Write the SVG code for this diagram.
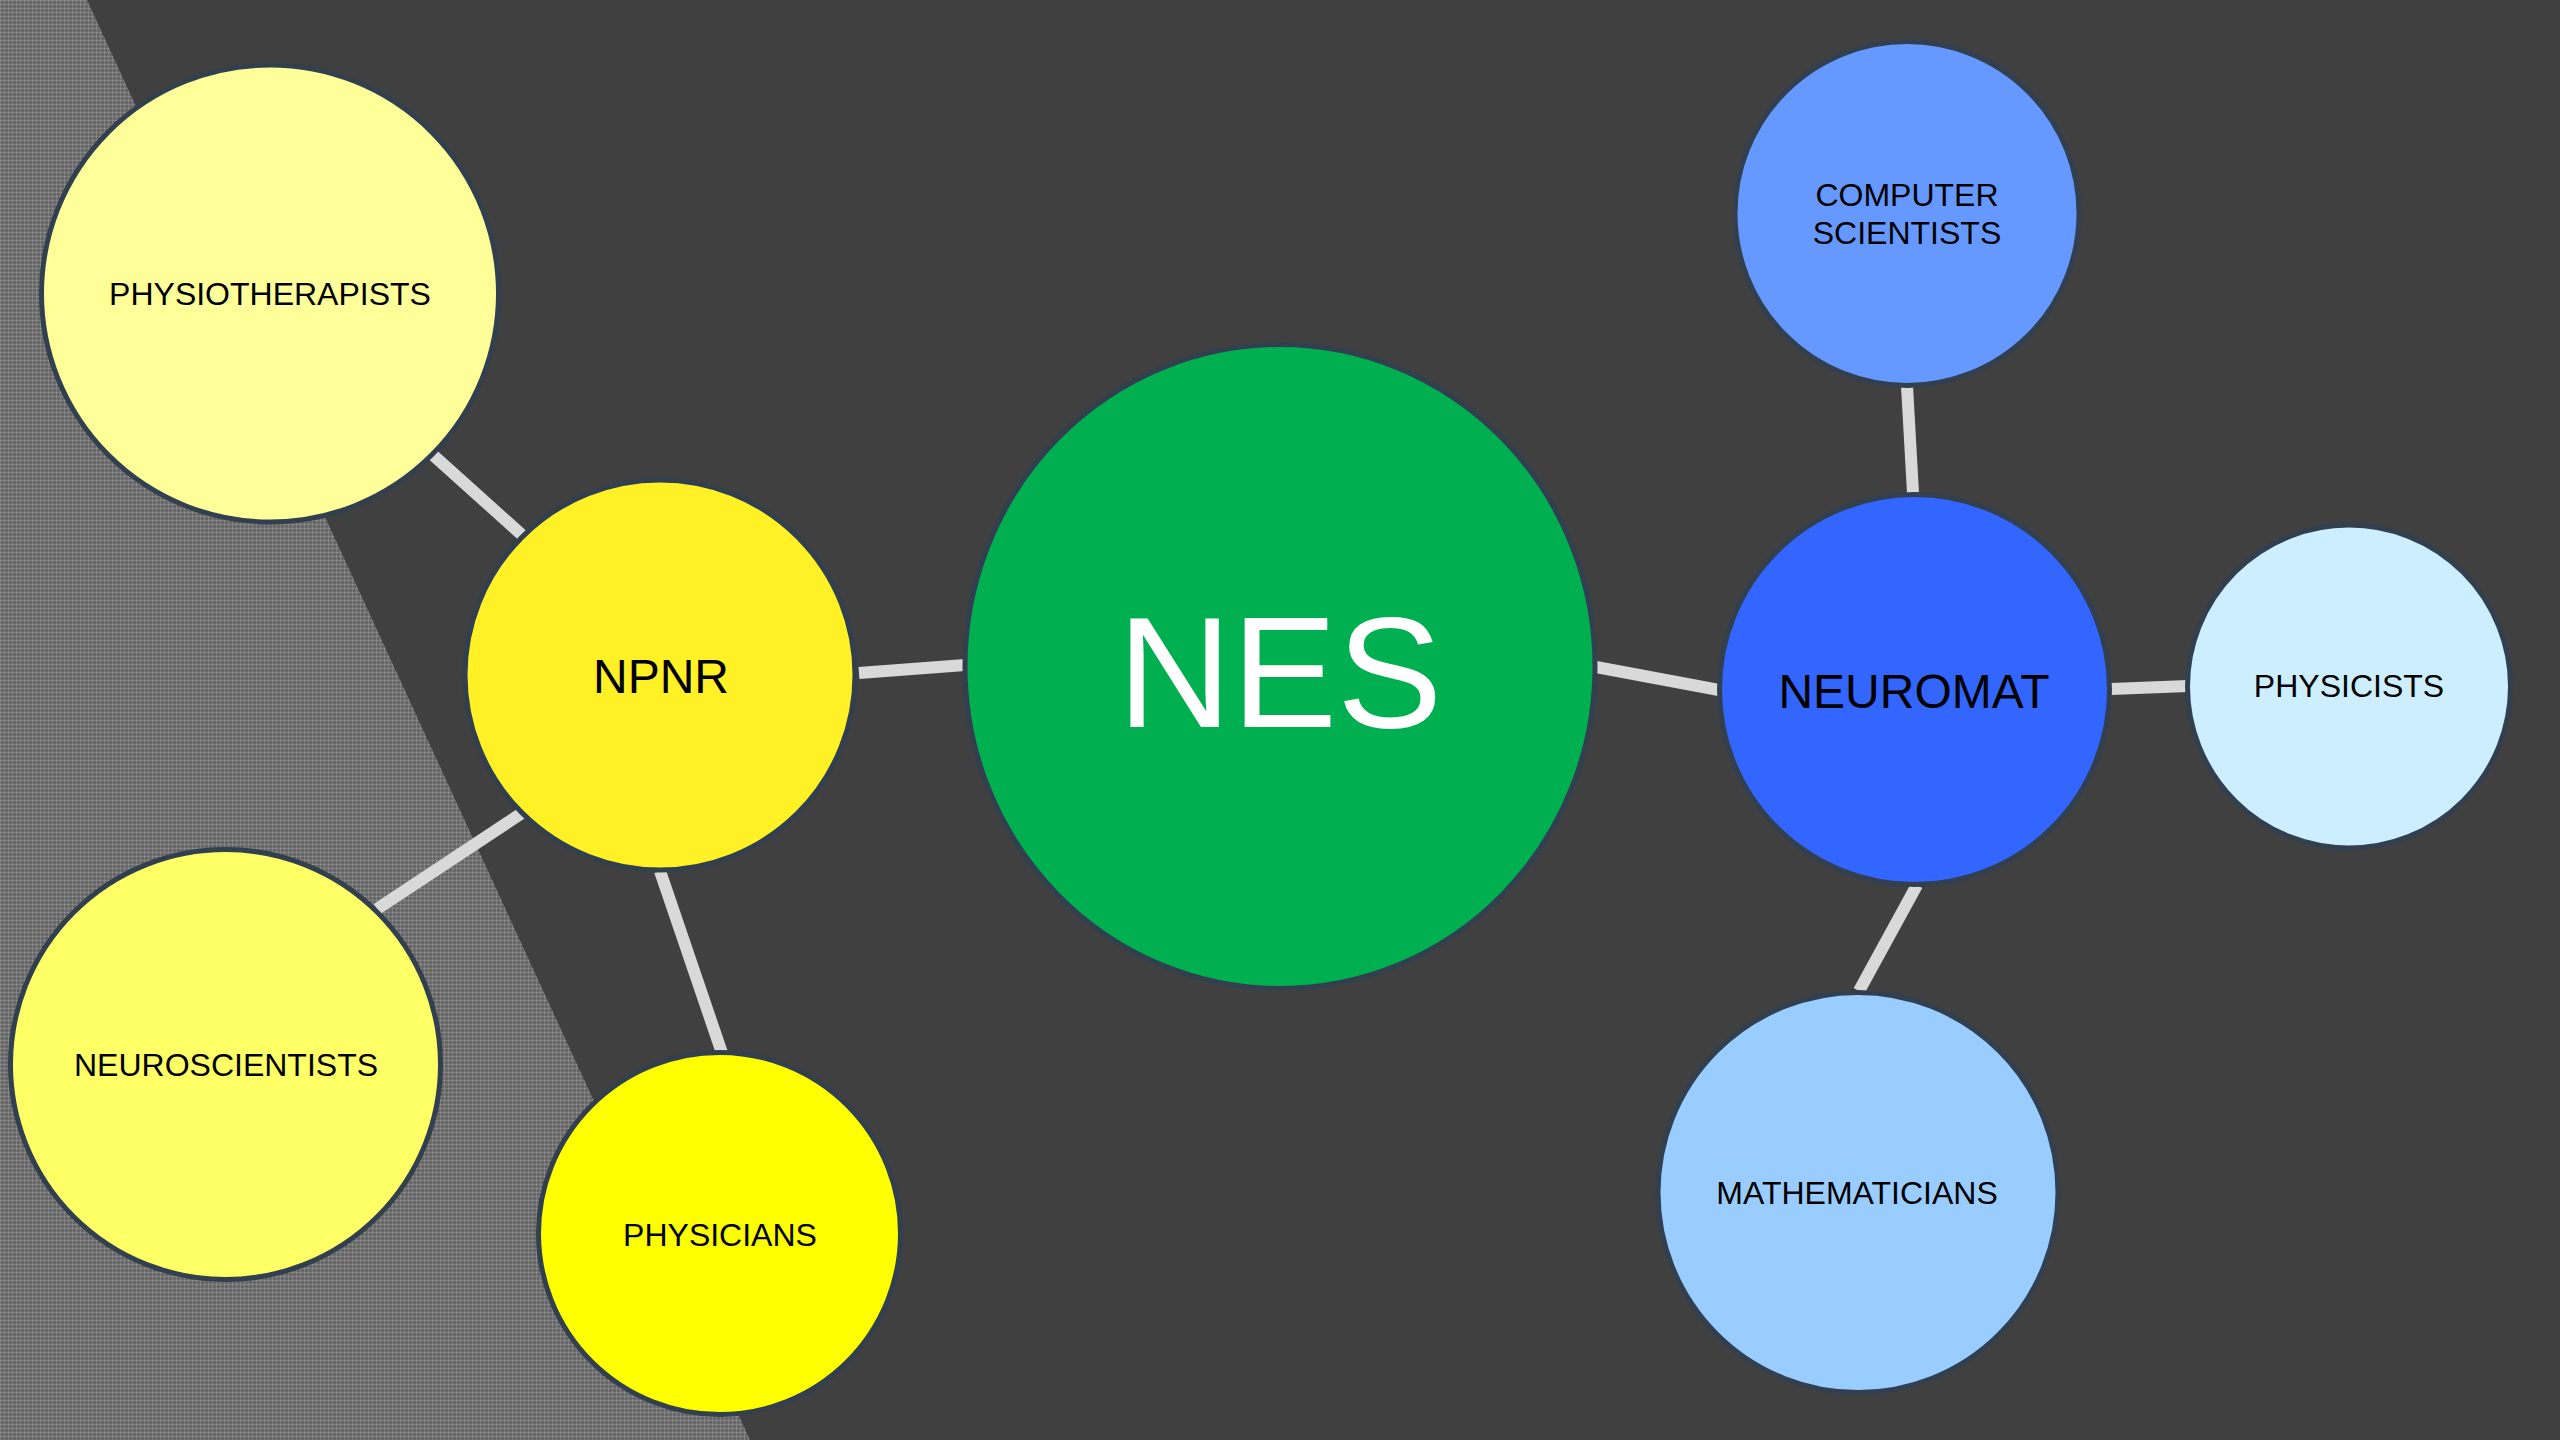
<svg xmlns="http://www.w3.org/2000/svg" width="2560" height="1440" viewBox="0 0 2560 1440">
  <defs>
    <pattern id="tex" width="4" height="4" patternUnits="userSpaceOnUse">
      <rect width="4" height="4" fill="#6a6a6a"/>
      <rect x="0" y="0" width="4" height="1" fill="#7c7c7c"/>
      <rect x="0" y="0" width="1" height="4" fill="#7c7c7c"/>
      <rect x="0" y="0" width="1" height="1" fill="#969696"/>
      <rect x="2" y="2" width="1" height="1" fill="#5a5a5a"/>
    </pattern>
  </defs>
  <style>
    .node { stroke: #323f4f; stroke-width: 5; }
    .lbl { font-family: "Liberation Sans", Arial, sans-serif; font-size: 32px; fill: #000000; text-anchor: middle; }
    .big { font-size: 48px; }
    .conn line { stroke: #d9d9d9; stroke-width: 12; stroke-linecap: butt; }
  </style>
  <rect x="0" y="0" width="2560" height="1440" fill="#404040"/>
  <polygon points="0,0 87,0 750,1440 0,1440" fill="url(#tex)"/>

  <g id="connectors" class="conn">
    <line x1="433" y1="455" x2="522" y2="535"/>
    <line x1="859" y1="673" x2="965" y2="665"/>
    <line x1="522" y1="813" x2="377" y2="909"/>
    <line x1="660" y1="871" x2="722" y2="1053"/>
    <line x1="1596" y1="667" x2="1719" y2="690"/>
    <line x1="1907" y1="386" x2="1913" y2="493"/>
    <line x1="2111" y1="689" x2="2188" y2="686"/>
    <line x1="1917" y1="885" x2="1859" y2="991"/>
  </g>

  <g id="physiotherapists">
    <circle class="node" cx="270" cy="293.5" r="228.5" fill="#ffff99"/>
    <text class="lbl" x="270" y="305">PHYSIOTHERAPISTS</text>
  </g>
  <g id="npnr">
    <circle class="node" cx="660" cy="675" r="195" fill="#fff126"/>
    <text class="lbl big" x="661" y="693">NPNR</text>
  </g>
  <g id="neuroscientists">
    <circle class="node" cx="225.5" cy="1064.5" r="215" fill="#ffff66"/>
    <text class="lbl" x="226" y="1076">NEUROSCIENTISTS</text>
  </g>
  <g id="physicians">
    <circle class="node" cx="719.5" cy="1233.5" r="181" fill="#ffff00"/>
    <text class="lbl" x="720" y="1246">PHYSICIANS</text>
  </g>
  <g id="nes">
    <ellipse class="node" cx="1280" cy="666.5" rx="315" ry="322" fill="#00b050"/>
    <text class="lbl" x="1280" y="727" style="font-size:158px;fill:#ffffff">NES</text>
  </g>
  <g id="neuromat">
    <circle class="node" cx="1914.5" cy="689.5" r="195" fill="#3366ff"/>
    <text class="lbl big" x="1914" y="708">NEUROMAT</text>
  </g>
  <g id="computer-scientists">
    <circle class="node" cx="1907" cy="213.5" r="172" fill="#6699ff"/>
    <text class="lbl" x="1907" y="206">COMPUTER</text>
    <text class="lbl" x="1907" y="244">SCIENTISTS</text>
  </g>
  <g id="physicists">
    <circle class="node" cx="2349" cy="686.5" r="161.5" fill="#cceeff"/>
    <text class="lbl" x="2349" y="697">PHYSICISTS</text>
  </g>
  <g id="mathematicians">
    <circle class="node" cx="1858" cy="1192.5" r="200" fill="#99ccff"/>
    <text class="lbl" x="1857" y="1204">MATHEMATICIANS</text>
  </g>
</svg>
